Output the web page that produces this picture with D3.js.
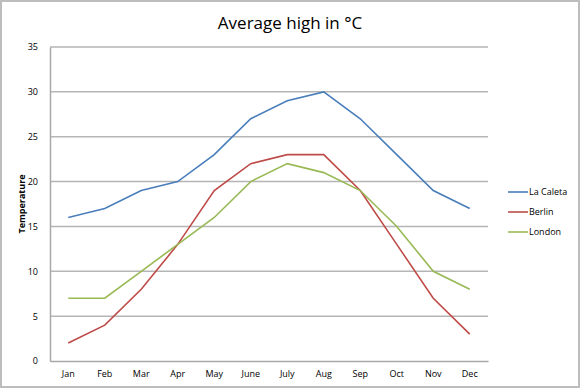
<!DOCTYPE html>
<html><head><meta charset="utf-8">
<script src="https://cdn.jsdelivr.net/npm/d3@7"></script>
<style>body{margin:0;background:#fff}svg{display:block}</style>
</head><body>
<script>
const months = ["Jan","Feb","Mar","Apr","May","June","July","Aug","Sep","Oct","Nov","Dec"];
const laCaleta = [16,17,19,20,23,27,29,30,27,23,19,17];
const berlin = [2,4,8,13,19,22,23,23,19,13,7,3];
const london = [7,7,10,13,16,20,22,21,19,15,10,8];
const yTicks = [0,5,10,15,20,25,30,35];
const seriesNames = ["La Caleta","Berlin","London"];
const colors = ["#4a7ebb","#be4b48","#98b954"];

const W=580,H=388;
const m={left:50,right:92,top:47,bottom:27};
const svg=d3.select("body").append("svg").attr("width",W).attr("height",H);
svg.append("rect").attr("x",1).attr("y",1).attr("width",W-2).attr("height",H-2)
  .attr("fill","#fff").attr("stroke","#bdbdbd").attr("stroke-width",2);
const font="'Open Sans', 'Liberation Sans', sans-serif";
const x=d3.scaleBand().domain(months).range([m.left,W-m.right]);
const y=d3.scaleLinear().domain([0,35]).range([H-m.bottom,m.top]);

svg.append("text").attr("x",290).attr("y",29).attr("text-anchor","middle")
  .attr("font-family",font).attr("font-size",17).attr("fill","#000").text("Average high in °C");

// gridlines
svg.append("g").selectAll("line").data(yTicks.filter(d=>d>0)).join("line")
  .attr("x1",m.left).attr("x2",W-m.right).attr("y1",d=>y(d)).attr("y2",d=>y(d))
  .attr("stroke","#b5b5b5").attr("stroke-width",1.5);

const ya=svg.append("g").attr("transform",`translate(${m.left},0)`)
  .call(d3.axisLeft(y).tickValues(yTicks).tickSize(0).tickPadding(12));
ya.select(".domain").attr("stroke","#a8a8a8").attr("stroke-width",1.5);
ya.selectAll("text").attr("font-family",font).attr("font-size",9).attr("fill","#000");

const xa=svg.append("g").attr("transform",`translate(0,${H-m.bottom})`)
  .call(d3.axisBottom(x).tickSize(0).tickPadding(10));
xa.select(".domain").attr("stroke","#a8a8a8").attr("stroke-width",1.5);
xa.selectAll("text").attr("font-family",font).attr("font-size",9).attr("fill","#000");

svg.append("text").attr("transform","translate(25,204) rotate(-90)").attr("text-anchor","middle")
  .attr("font-family",font).attr("font-size",9).attr("font-weight","bold").text("Temperature");

const line=d3.line().x((d,i)=>x(months[i])+x.bandwidth()/2).y(d=>y(d));
[laCaleta,berlin,london].forEach((s,k)=>{
  svg.append("path").datum(s).attr("d",line).attr("fill","none")
    .attr("stroke",colors[k]).attr("stroke-width",1.6);
});

const lg=svg.append("g");
seriesNames.forEach((n,k)=>{
  const yy=192+k*20;
  lg.append("line").attr("x1",508).attr("x2",528).attr("y1",yy).attr("y2",yy)
    .attr("stroke",colors[k]).attr("stroke-width",1.6);
  lg.append("text").attr("x",529).attr("y",yy+3).attr("font-family",font)
    .attr("font-size",9).attr("fill","#000").text(n);
});
</script>
</body></html>
